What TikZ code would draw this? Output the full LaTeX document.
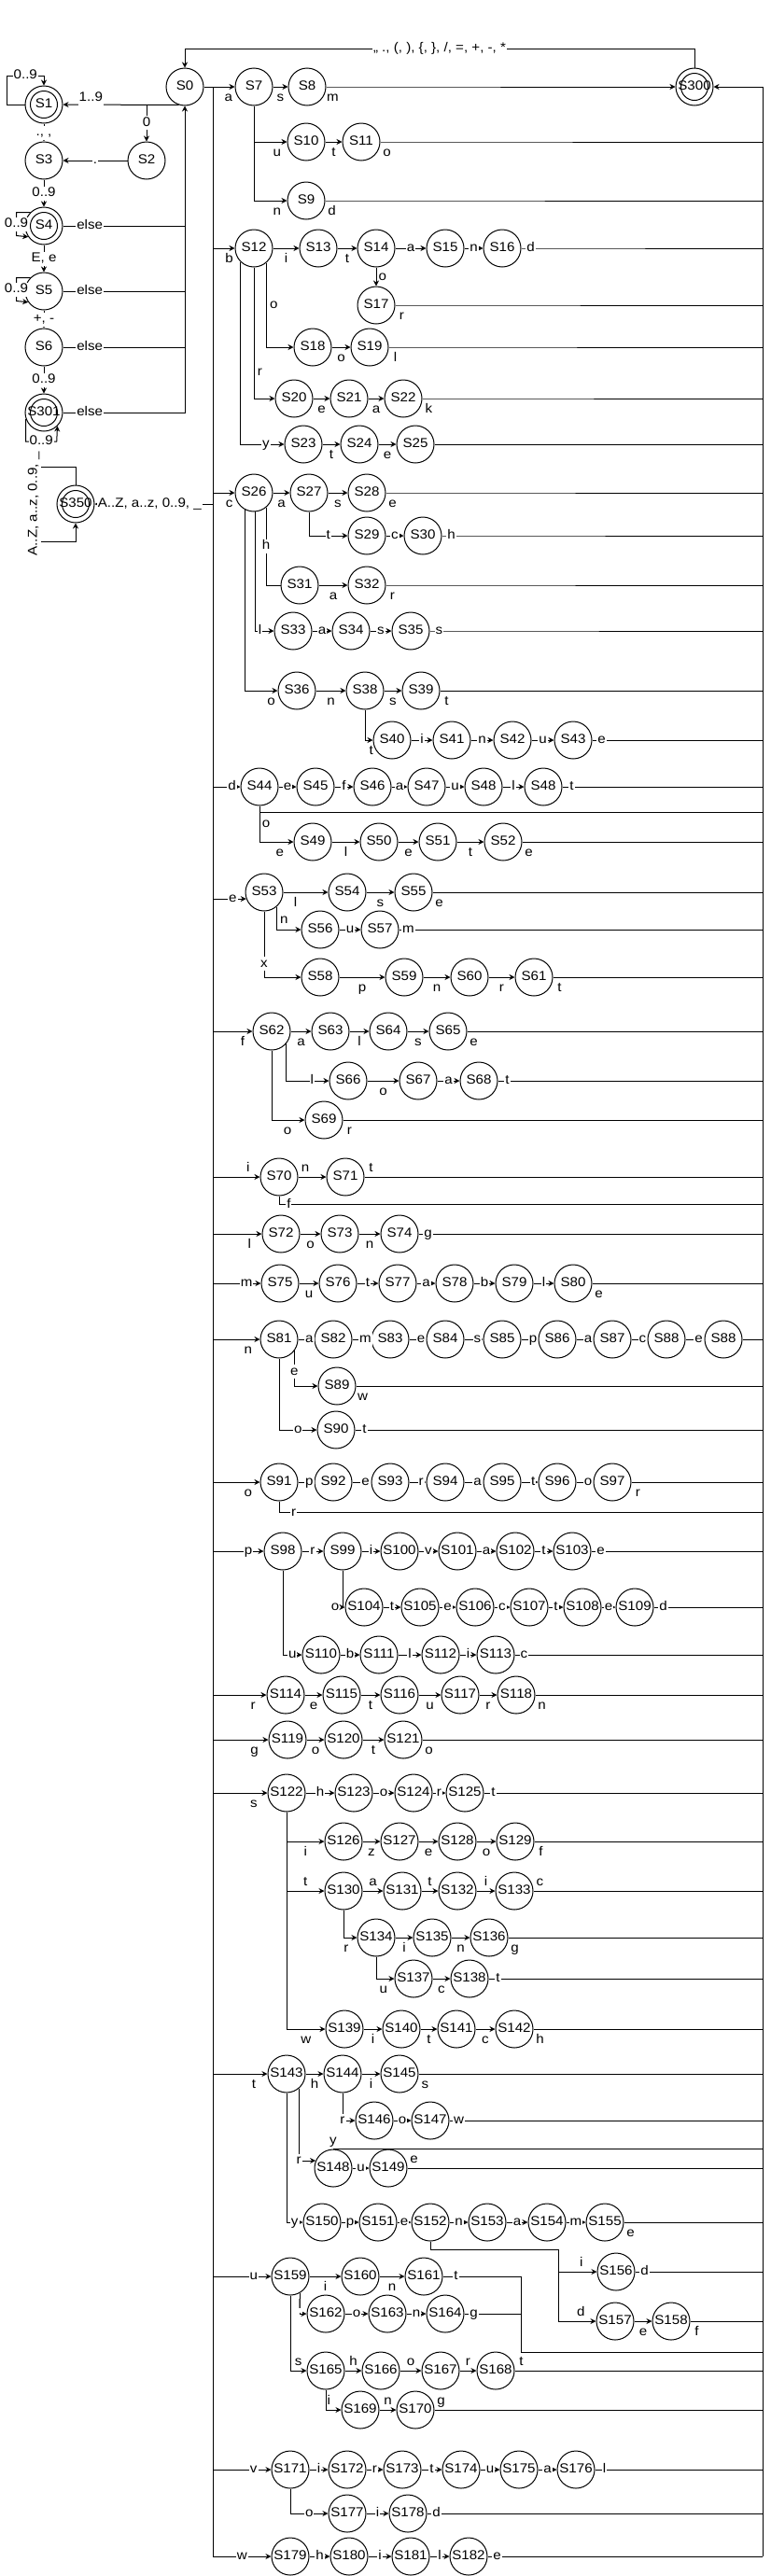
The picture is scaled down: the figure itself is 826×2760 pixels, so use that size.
\documentclass[tikz,border=0pt]{standalone}
\usepackage{fontspec}
\setmainfont[FakeStretch=1.08]{Liberation Sans}
\usetikzlibrary{arrows.meta}
\newcommand{\lbfont}{\fontsize{14}{16}\selectfont}

\begin{document}
\begin{tikzpicture}[x=1pt,y=-1pt,line width=1pt,
  every node/.style={font=\lbfont,text height=10pt,text depth=3pt},
  st/.style={draw,circle,minimum size=40pt,inner sep=0pt},
  acc/.style={st,path picture={\draw (path picture bounding box.center) circle[radius=14.5pt];}},
  arr/.style={-{Stealth[length=6pt,width=6pt]}},
  il/.style={fill=white,inner sep=1pt},
  bl/.style={below=4pt,inner sep=1pt},
  ab/.style={above=1pt,inner sep=1pt}]
\useasboundingbox (0,0) rectangle (826,2760);

% number part
\node[st] (s0) at (198,93) {S0};
\node[acc] (s1) at (47,112) {S1};
\node[st] (s2) at (157,172) {S2};
\node[st] (s3) at (47,172) {S3};
\node[acc] (s4) at (47,242) {S4};
\node[st] (s5) at (47,312) {S5};
\node[st] (s6) at (47,372) {S6};
\node[acc] (s301) at (47,442) {S301};
\node[acc] (s350) at (81,540) {S350};
\node[acc] (s300) at (744,93) {S300};

\coordinate (j0) at (157,112);
\coordinate (tl) at (198,52);
\coordinate (lt) at (228,93);
\coordinate (lb) at (228,2739);
\coordinate (rb) at (817,2739);

\draw[arr] (s1.west) -| ++(-19,-31) -| node[il,pos=.25]{0..9} (s1.north);
\draw[arr] (s0.-108) -- node[il,pos=.76,yshift=7pt]{1..9} (s1.east);
\draw[arr] (j0) -- node[il]{0} (s2);
\draw[arr] (s2) -- node[il]{.} (s3);
\draw[arr] (s1) -- node[il]{., ,} (s3);
\draw[arr] (s3) -- node[il]{0..9} (s4);
\draw[arr] (s4) -- node[il]{E, e} (s5);
\draw[arr] (s5) -- node[il]{+, -} (s6);
\draw[arr] (s6) -- node[il]{0..9} (s301);
\foreach \n in {4,5} \draw[arr] (s\n.135) -| node[il,pos=.75]{0..9} ++(-15,25) -- (s\n.-145);
\foreach \n in {4,5,6} \draw (s\n) -- node[il,pos=.22]{else} (s\n -| s0);
\draw[arr] (s301) -- node[il,pos=.22]{else} (s301 -| s0) -- (s0);
\draw[arr] (s301.200) |- node[il,pos=.75]{0..9} ++(33,24) -- (s301.-45);

% identifiers
\draw[arr] (s350 -| lt) -- node[il,pos=.535]{A..Z, a..z, 0..9, \_} (s350);
\draw[arr] (s350.north) |- (36,500) -- node[il,rotate=90]{A..Z, a..z, 0..9, \_} (36,580) -| (s350.south);

% buses
\draw (lt) -- (lb);
\draw[arr] (rb) |- (s300);
\draw[arr] (s300.north) |- node[il,pos=.75]{,, ., (, ), \{, \}, /, =, +, -, *} (tl) -- (s0.north);

% keyword states
\foreach \n/\x in {7/272,8/329} \node[st] (s\n) at (\x,93) {S\n};
\foreach \n/\x in {10/328,11/387} \node[st] (s\n) at (\x,152) {S\n};
\node[st] (s9) at (328,215) {S9};
\foreach \n/\x in {12/272,13/341,14/403,15/477,16/538} \node[st] (s\n) at (\x,266) {S\n};
\node[st] (s17) at (403,327) {S17};
\foreach \n/\x in {18/335,19/396} \node[st] (s\n) at (\x,372) {S\n};
\foreach \n/\x in {20/315,21/374,22/432} \node[st] (s\n) at (\x,427) {S\n};
\foreach \n/\x in {23/325,24/385,25/445} \node[st] (s\n) at (\x,476) {S\n};
\foreach \n/\x in {26/272,27/331,28/393} \node[st] (s\n) at (\x,528) {S\n};
\foreach \n/\x in {29/393,30/453} \node[st] (s\n) at (\x,574) {S\n};
\foreach \n/\x in {31/321,32/393} \node[st] (s\n) at (\x,627) {S\n};
\foreach \n/\x in {33/314,34/376,35/440} \node[st] (s\n) at (\x,676) {S\n};
\foreach \n/\x in {36/318,38/391,39/451} \node[st] (s\n) at (\x,740) {S\n};
\foreach \n/\x in {40/420,41/484,42/549,43/614} \node[st] (s\n) at (\x,793) {S\n};
\foreach \n/\x in {44/278,45/338,46/399,47/457,48/518} \node[st] (s\n) at (\x,843) {S\n};
\node[st] (s48b) at (582,843) {S48};
\foreach \n/\x in {49/335,50/406,51/469,52/539} \node[st] (s\n) at (\x,902) {S\n};
\foreach \n/\x in {53/283,54/372,55/443} \node[st] (s\n) at (\x,956) {S\n};
\foreach \n/\x in {56/343,57/407} \node[st] (s\n) at (\x,996) {S\n};
\foreach \n/\x in {58/343,59/433,60/503,61/572} \node[st] (s\n) at (\x,1047) {S\n};
\foreach \n/\x in {62/291,63/354,64/416,65/480} \node[st] (s\n) at (\x,1105) {S\n};
\foreach \n/\x in {66/373,67/448,68/513} \node[st] (s\n) at (\x,1158) {S\n};
\node[st] (s69) at (347,1200) {S69};
\foreach \n/\x in {70/299,71/370} \node[st] (s\n) at (\x,1261) {S\n};
\foreach \n/\x in {72/301,73/364,74/428} \node[st] (s\n) at (\x,1322) {S\n};
\foreach \n/\x in {75/300,76/362,77/426,78/487,79/551,80/614} \node[st] (s\n) at (\x,1375) {S\n};
\foreach \n/\x in {81/299,82/357,83/418,84/477,85/538,86/597,87/656,88/714} \node[st] (s\n) at (\x,1435) {S\n};
\node[st] (s88b) at (775,1435) {S88};
\node[st] (s89) at (361,1485) {S89};
\node[st] (s90) at (360,1532) {S90};
\foreach \n/\x in {91/299,92/357,93/418,94/477,95/538,96/597,97/656} \node[st] (s\n) at (\x,1588) {S\n};
\foreach \n/\x in {98/303,99/367,100/428,101/490,102/552,103/613} \node[st] (s\n) at (\x,1662) {S\n};
\foreach \n/\x in {104/390,105/450,106/509,107/567,108/624,109/680} \node[st] (s\n) at (\x,1722) {S\n};
\foreach \n/\x in {110/344,111/406,112/472,113/531} \node[st] (s\n) at (\x,1773) {S\n};
\foreach \n/\x in {114/306,115/366,116/428,117/493,118/553} \node[st] (s\n) at (\x,1816) {S\n};
\foreach \n/\x in {119/308,120/368,121/432} \node[st] (s\n) at (\x,1864) {S\n};
\foreach \n/\x in {122/307,123/379,124/443,125/498} \node[st] (s\n) at (\x,1921) {S\n};
\foreach \n/\x in {126/368,127/428,128/490,129/552} \node[st] (s\n) at (\x,1973) {S\n};
\foreach \n/\x in {130/368,131/431,132/490,133/551} \node[st] (s\n) at (\x,2026) {S\n};
\foreach \n/\x in {134/403,135/463,136/524} \node[st] (s\n) at (\x,2076) {S\n};
\foreach \n/\x in {137/443,138/503} \node[st] (s\n) at (\x,2120) {S\n};
\foreach \n/\x in {139/369,140/430,141/489,142/551} \node[st] (s\n) at (\x,2174) {S\n};
\foreach \n/\x in {143/307,144/367,145/428} \node[st] (s\n) at (\x,2222) {S\n};
\foreach \n/\x in {146/401,147/461} \node[st] (s\n) at (\x,2272) {S\n};
\foreach \n/\x in {148/357,149/416} \node[st] (s\n) at (\x,2323) {S\n};
\foreach \n/\x in {150/345,151/405,152/461,153/522,154/586,155/648} \node[st] (s\n) at (\x,2381) {S\n};
\node[st] (s156) at (660,2434) {S156};
\foreach \n/\x in {157/659,158/719} \node[st] (s\n) at (\x,2487) {S\n};
\foreach \n/\x in {159/311,160/386,161/454} \node[st] (s\n) at (\x,2439) {S\n};
\foreach \n/\x in {162/349,163/415,164/477} \node[st] (s\n) at (\x,2479) {S\n};
\foreach \n/\x in {165/349,166/408,167/472,168/531} \node[st] (s\n) at (\x,2540) {S\n};
\foreach \n/\x in {169/386,170/445} \node[st] (s\n) at (\x,2582) {S\n};
\foreach \n/\x in {171/311,172/372,173/431,174/494,175/556,176/617} \node[st] (s\n) at (\x,2646) {S\n};
\foreach \n/\x in {177/372,178/437} \node[st] (s\n) at (\x,2693) {S\n};
\foreach \n/\x in {179/311,180/374,181/440,182/502} \node[st] (s\n) at (\x,2739) {S\n};

% from the left bus
\draw[arr] (s0) -- node[bl,pos=.8]{a} (s7);
\foreach \n/\l in {44/d,75/m,98/p,159/u,171/v} \draw[arr] (s\n -| lt) -- node[il,pos=.7]{\l} (s\n);
\foreach \n/\l in {12/b,26/c,62/f,72/l,81/n,91/o,114/r,119/g,122/s,143/t} \draw[arr] (s\n -| lt) -- node[bl,pos=.75]{\l} (s\n);
\draw[arr] (s70 -| lt) -- node[ab,pos=.75]{i} (s70);
\draw[arr] (lt |- s53.-160) -- node[il,pos=.6]{e} (s53.-160);
\draw[arr] (lb) -- node[il]{w} (s179);

% chains
\foreach \a/\b/\l in {7/8/s,10/11/t,12/13/i,13/14/t,18/19/o,20/21/e,21/22/a,23/24/t,24/25/e,26/27/a,27/28/s,31/32/a,36/38/n,38/39/s,
  49/50/l,50/51/e,51/52/t,54/55/s,58/59/p,59/60/n,60/61/r,62/63/a,63/64/l,64/65/s,66/67/o,72/73/o,73/74/n,75/76/u,
  114/115/e,115/116/t,116/117/u,117/118/r,119/120/o,120/121/t,126/127/z,127/128/e,128/129/o,134/135/i,135/136/n,
  137/138/c,139/140/i,140/141/t,141/142/c,143/144/h,144/145/i,157/158/e,159/160/i,160/161/n}
  \draw[arr] (s\a) -- node[bl]{\l} (s\b);
\foreach \a/\b/\l in {14/15/a,15/16/n,29/30/c,33/34/a,34/35/s,40/41/i,41/42/n,42/43/u,44/45/e,45/46/f,46/47/a,47/48/u,48/48b/l,
  56/57/u,67/68/a,76/77/t,77/78/a,78/79/b,79/80/l,98/99/r,99/100/i,100/101/v,101/102/a,102/103/t,
  104/105/t,105/106/e,106/107/c,107/108/t,108/109/e,110/111/b,111/112/l,112/113/i,122/123/h,123/124/o,124/125/r,
  146/147/o,148/149/u,150/151/p,151/152/e,152/153/n,153/154/a,154/155/m,162/163/o,163/164/n,
  171/172/i,172/173/r,173/174/t,174/175/u,175/176/a,177/178/i,179/180/h,180/181/i,181/182/l}
  \draw[arr] (s\a) -- node[il]{\l} (s\b);
\foreach \a/\b/\l in {81/82/a,82/83/m,83/84/e,84/85/s,85/86/p,86/87/a,87/88/c,88/88b/e,
  91/92/p,92/93/e,93/94/r,94/95/a,95/96/t,96/97/o}
  \draw[arr] (s\a) -- node[il,pos=.7]{\l} (s\b);
\foreach \a/\b/\l in {130/131/a,131/132/t,132/133/i,165/166/h,166/167/o,167/168/r,169/170/n}
  \draw[arr] (s\a) -- node[ab]{\l} (s\b);
\draw[arr] (s14) -- node[right,inner sep=2pt]{o} (s17);
\draw[arr] (s53) -- node[bl,pos=.27]{l} (s54);
\draw[arr] (s70) -- node[ab,pos=.25]{n} (s71);

% branches
\draw[arr] (s7) |- node[bl,pos=.85]{u} (s10);
\draw[arr] (s7) |- node[bl,pos=.85]{n} (s9);
\draw[arr] (s12.-50) |- node[right,pos=.25]{o} (s18);
\draw[arr] (s12) |- node[right,pos=.4]{r} (s20);
\draw[arr] (s12.-134) |- node[il,pos=.79]{y} (s23);
\draw[arr] (s27) |- node[il,pos=.75]{t} (s29);
\draw (s26.-50) |- node[il,pos=.25]{h} (s31);
\draw[arr] (s26.-85) |- node[il,pos=.62]{l} (s33);
\draw[arr] (s26.-117) |- node[bl,pos=.9]{o} (s36);
\draw[arr] (s38) |- node[bl,pos=.9]{t} (s40);
\draw[arr] (s44) |- node[bl,pos=.8]{e} (s49);
\path (s44.south) ++(0,7) coordinate (c44);
\draw (c44) -- node[bl,pos=.013]{o} (c44 -| rb);
\draw[arr] (s53.-50) |- node[right,pos=.3]{n} (s56);
\draw[arr] (s53) |- node[il,pos=.4]{x} (s58);
\draw[arr] (s62.-40) |- node[il,pos=.8]{l} (s66);
\draw[arr] (s62) |- node[bl,pos=.74]{o} (s69);
\path (s70.south) ++(0,9) coordinate (c70);
\draw (s70) -- (c70) -- node[il,pos=.02]{f} (c70 -| rb);
\draw[arr] (s81.-37) |- node[il,pos=.3]{e} (s89);
\draw[arr] (s81) |- node[il,pos=.75]{o} (s90);
\path (s91.south) ++(0,12) coordinate (c91);
\draw (s91) -- (c91) -- node[il,pos=.03]{r} (c91 -| rb);
\draw[arr] (s99) |- node[left,pos=.5]{o} (s104);
\draw[arr] (s98) |- node[il,pos=.75]{u} (s110);
\draw[arr] (s122) |- node[bl,pos=.75]{i} (s126);
\draw[arr] (s122) |- node[ab,pos=.75]{t} (s130);
\draw[arr] (s122) |- node[bl,pos=.75]{w} (s139);
\draw[arr] (s130) |- node[bl,pos=.6]{r} (s134);
\draw[arr] (s134) |- node[bl,pos=.7]{u} (s137);
\draw[arr] (s144) |- node[il,pos=.5]{r} (s146);
\draw[arr] (s143.-50) |- node[il,pos=.5]{r} (s148.157);
\draw (s148.north) -- node[ab,pos=0]{y} (s148.north -| rb);
\draw[arr] (s143) |- node[il,pos=.75]{y} (s150);
\coordinate (j152) at (598,2410);
\draw (s152) |- (j152);
\draw[arr] (j152) |- node[ab,pos=.8]{i} (s156);
\draw[arr] (j152) |- node[ab,pos=.8]{d} (s157);
\coordinate (j161) at (558,2520);
\draw (s161.east) -- ++(14,0) node[il]{t} -| (j161) -- (j161 -| rb);
\draw[arr] (s159.-60) |- node[il,pos=.3]{l} (s162);
\draw (s164.east) -- ++(10,0) node[il]{g} -- (s164 -| j161);
\draw[arr] (s159) |- node[ab,pos=.75]{s} (s165);
\draw[arr] (s165) |- node[ab,pos=.6]{i} (s169);
\draw[arr] (s171) |- node[il,pos=.75]{o} (s177);

% to the right bus
\draw[arr] (s8.east) -- ++(7,0) node[bl]{m} -- (s300);
\foreach \a/\l in {16/d,30/h,35/s,43/e,48b/t,57/m,68/t,74/g,90/t,103/e,109/d,113/c,125/t,138/t,147/w,156/d,176/l,178/d}
  \draw (s\a.east) -- ++(10,0) node[il]{\l} -- (s\a -| rb);
\foreach \a/\l in {11/o,9/d,17/r,19/l,22/k,28/e,32/r,39/t,52/e,55/e,61/t,65/e,69/r,80/e,89/w,97/r,118/n,121/o,129/f,136/g,142/h,145/s,155/e,158/f}
  \draw (s\a.east) -- ++(7,0) node[bl]{\l} -- (s\a -| rb);
\foreach \a/\l in {71/t,133/c,149/e,168/t,170/g}
  \draw (s\a.east) -- ++(7,0) node[ab]{\l} -- (s\a -| rb);
\foreach \a in {25,88b} \draw (s\a) -- (s\a -| rb);
\draw (s182.east) -- ++(10,0) node[il]{e} -- (rb);
\end{tikzpicture}
\end{document}
